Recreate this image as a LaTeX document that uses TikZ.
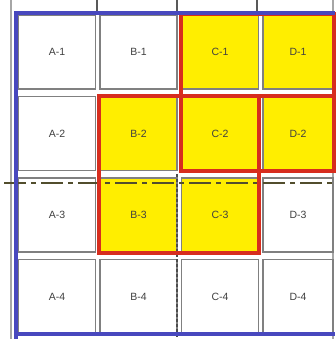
\documentclass[tikz,border=0pt]{standalone}
\usepackage{fontspec}
\setsansfont{Liberation Sans}
\usetikzlibrary{positioning, backgrounds}
\definecolor{frameblue}{RGB}{72,72,190}
\definecolor{markred}{RGB}{215,45,30}
\definecolor{markyellow}{RGB}{255,238,0}
\tikzset{
    cell/.style={draw=black!50, line width=1.5pt, fill=white, minimum width=77pt, minimum height=74pt, inner sep=0pt, font=\sffamily\fontsize{10.5}{11}\selectfont, text=black!75},
    hit/.style={cell, fill=markyellow},
    narrow/.style={minimum width=70pt},
    frameline/.style={draw=frameblue, line width=3.4pt},
    edgeline/.style={draw=black!35, line width=1.8pt},
    redbox/.style={draw=markred, line width=4pt},
    centerline/.style={draw=black!55!olive, line width=1.5pt, dash pattern=on 22pt off 5pt on 5pt off 5pt},
    gridline/.style={draw=black!70, line width=1.3pt, dash pattern=on 3pt off 2pt}
}
\begin{document}
\begin{tikzpicture}[x=1pt, y=-1pt, node distance=6pt and 3pt]
    \useasboundingbox[fill=white] (0,0) rectangle (335,339);

    % frame of the plan
    \draw[edgeline] (11,0) -- (11,339);
    \draw[edgeline] (333,0) -- (333,339);
    \draw[black!65, line width=1.2pt] (97,0) -- (97,12);
    \draw[black!65, line width=1.2pt] (177,0) -- (177,12);
    \draw[black!65, line width=1.2pt] (257,0) -- (257,12);

    % row 1
    \node[cell] (a1) at (57,52) {A-1};
    \node[cell, right=3pt of a1] (b1) {B-1};
    \node[hit, right=3pt of b1] (c1) {C-1};
    \node[hit, narrow, right=3pt of c1] (d1) {D-1};

    % row 2
    \node[cell, below=6pt of a1] (a2) {A-2};
    \node[hit, right=3pt of a2] (b2) {B-2};
    \node[hit, right=3pt of b2] (c2) {C-2};
    \node[hit, narrow, right=3pt of c2] (d2) {D-2};

    % row 3
    \node[cell, below=6pt of a2] (a3) {A-3};
    \node[hit, right=3pt of a3] (b3) {B-3};
    \node[hit, right=3pt of b3] (c3) {C-3};
    \node[cell, narrow, right=3pt of c3] (d3) {D-3};

    % row 4
    \node[cell, below=6pt of a3] (a4) {A-4};
    \node[cell, right=3pt of a4] (b4) {B-4};
    \node[cell, right=3pt of b4] (c4) {C-4};
    \node[cell, narrow, right=3pt of c4] (d4) {D-4};

    % yellow ground of the marked blocks
    \begin{pgfonlayer}{background}
        \fill[markyellow] (c1.north west) rectangle (d2.south east);
        \fill[markyellow] (b2.north west) rectangle (c3.south east);
    \end{pgfonlayer}

    % axis lines
    \draw[centerline] (4,183) -- (335,183);
    \draw[gridline] (177,174) -- (177,339);

    % marked blocks
    \draw[redbox] (c1.north west) rectangle (d2.south east);
    \draw[redbox] (c2.north west) rectangle (d2.south east);
    \draw[redbox] (b2.north west) rectangle (c3.south east);

    % blue border
    \draw[frameline] (16,12) -- (16,339);
    \draw[frameline] (14.3,13) -- (335,13);
    \draw[frameline] (14.3,334) -- (335,334);
\end{tikzpicture}
\end{document}
